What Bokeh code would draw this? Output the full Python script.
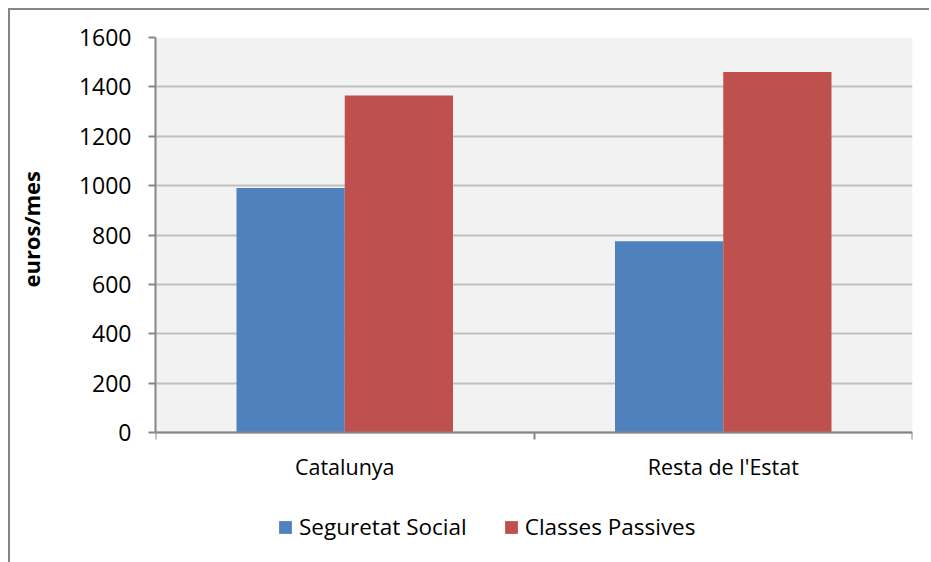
from bokeh.plotting import figure
from bokeh.models import ColumnDataSource, FixedTicker, Legend, LegendItem, Range1d, BoxAnnotation
from bokeh.embed import file_html
from bokeh.resources import INLINE

categories = ["Catalunya", "Resta de l'Estat"]
series_names = ["Seguretat Social", "Classes Passives"]
seguretat_social = [990, 775]
classes_passives = [1365, 1460]
y_ticks = [0, 200, 400, 600, 800, 1000, 1200, 1400, 1600]
y_label = "euros/mes"

BLUE = "#4f81bd"
RED = "#c0504d"
AXIS = "#868686"
FONT = "Open Sans"

n = len(categories)
centers = [i + 0.5 for i in range(n)]
bw = 0.286

# layout (pixels): plotting area 757x395 for 0..1600, frame extended below for the legend
PLOT_H = 395
FRAME_H = 515
y_min = y_ticks[-1] - FRAME_H * (y_ticks[-1] - y_ticks[0]) / PLOT_H

src_ss = ColumnDataSource(dict(x=[c - bw / 2 for c in centers], top=seguretat_social))
src_cp = ColumnDataSource(dict(x=[c + bw / 2 for c in centers], top=classes_passives))

p = figure(
    frame_width=757, frame_height=FRAME_H,
    min_border_left=145, min_border_right=17, min_border_top=27, min_border_bottom=10,
    x_range=Range1d(0, n), y_range=Range1d(y_min, y_ticks[-1]),
    output_backend="svg", toolbar_location=None,
)
p.styles = {
    "margin-left": "8px", "margin-top": "8px",
    "border-left": f"2px solid {AXIS}", "border-top": f"2px solid {AXIS}",
}
p.background_fill_color = "white"
p.border_fill_color = "white"
p.outline_line_color = None

p.add_layout(BoxAnnotation(left=0, right=n, bottom=y_ticks[0], top=y_ticks[-1],
                           fill_color="#f2f2f2", fill_alpha=1, line_color=None, level="image"))

r1 = p.vbar(x="x", top="top", width=bw, bottom=0, source=src_ss, fill_color=BLUE, line_color=None)
r2 = p.vbar(x="x", top="top", width=bw, bottom=0, source=src_cp, fill_color=RED, line_color=None)

p.xgrid.visible = False
p.ygrid.ticker = FixedTicker(ticks=y_ticks)
p.ygrid.grid_line_color = "#c0c0c0"
p.ygrid.grid_line_width = 2

xa = p.xaxis[0]
xa.fixed_location = 0
xa.ticker = FixedTicker(ticks=centers, minor_ticks=list(range(n + 1)))
xa.major_label_overrides = {c: lab for c, lab in zip(centers, categories)}
xa.major_tick_out = 0
xa.major_tick_in = 0
xa.minor_tick_out = 7
xa.minor_tick_in = 0
xa.minor_tick_line_color = AXIS
xa.minor_tick_line_width = 2
xa.axis_line_color = AXIS
xa.axis_line_width = 2
xa.major_label_text_font = FONT
xa.major_label_text_font_size = "21.5px"
xa.major_label_text_color = "black"
xa.major_label_standoff = 12

ya = p.yaxis[0]
ya.bounds = (y_ticks[0], y_ticks[-1])
ya.ticker = FixedTicker(ticks=y_ticks, minor_ticks=[])
ya.major_tick_out = 7
ya.major_tick_in = 0
ya.major_tick_line_color = AXIS
ya.major_tick_line_width = 2
ya.axis_line_color = AXIS
ya.axis_line_width = 2
ya.major_label_text_font = FONT
ya.major_label_text_font_size = "23px"
ya.major_label_text_color = "black"
ya.major_label_standoff = 17
# leading non-breaking spaces keep the label centred on the 0..1600 part of the extended frame
ya.axis_label = "\u00a0" * 23 + y_label
ya.axis_label_text_font = FONT
ya.axis_label_text_font_size = "22px"
ya.axis_label_text_font_style = "bold"
ya.axis_label_text_color = "black"
ya.axis_label_standoff = 30

legend = Legend(
    items=[LegendItem(label=series_names[0], renderers=[r1]),
           LegendItem(label=series_names[1], renderers=[r2])],
    location=(122, 10), orientation="horizontal",
    glyph_width=16, glyph_height=16, label_standoff=6, spacing=36,
    padding=0, margin=0, border_line_color=None, background_fill_alpha=0,
    label_text_font=FONT, label_text_font_size="22.5px", label_text_color="black",
)
p.add_layout(legend)

open("out.html", "w").write(file_html(p, INLINE))
